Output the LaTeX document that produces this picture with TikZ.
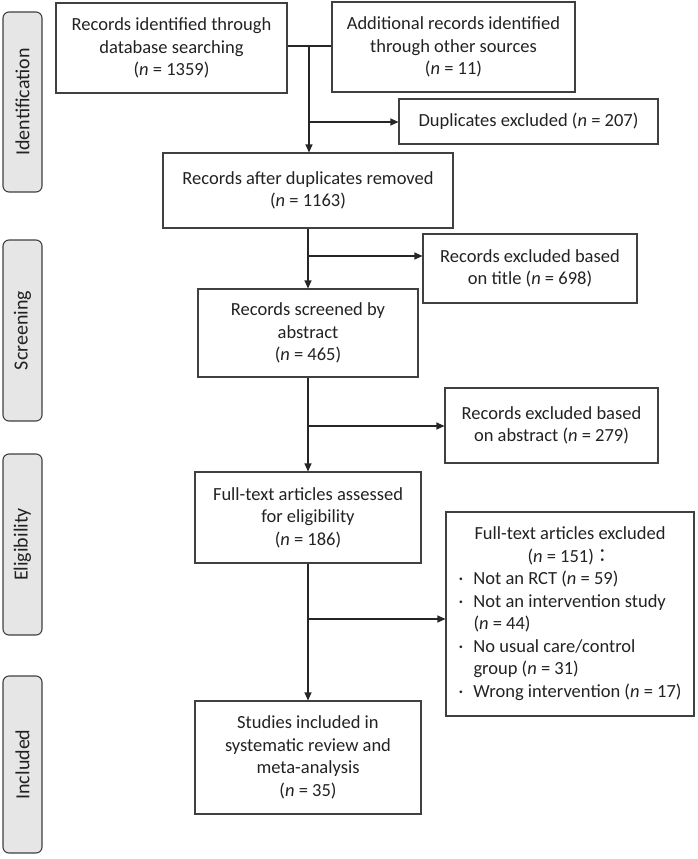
\documentclass[tikz,border=0pt]{standalone}
\usepackage{fontspec}
\setmainfont{Carlito}
\newfontfamily\cjk{Noto Sans CJK JP}
\usetikzlibrary{arrows.meta}
\definecolor{lbl}{HTML}{E6E6E6}
\definecolor{edge}{HTML}{404040}
\definecolor{txt}{HTML}{222222}
\newcommand{\nn}{\textit{n}}
\newcommand{\bul}{\makebox[15pt][l]{·}}
\begin{document}
\begin{tikzpicture}[x=1pt,y=-1pt,
  box/.style={draw=edge, line width=1.1pt, rectangle, inner sep=0pt, align=center,
    text=txt, font=\fontsize{18.5}{22.5}\selectfont},
  side/.style={draw=edge, line width=1.1pt, rounded corners=6pt, fill=lbl, inner sep=0pt,
    minimum width=39pt, text=txt, font=\fontsize{20}{22}\selectfont},
  conn/.style={draw=black!85, line width=1.1pt},
  arr/.style={conn, -{Triangle[length=8pt,width=7pt]}}]
\useasboundingbox (0,0) rectangle (697,859);

% side labels
\node[side, minimum height=180pt] (sid) at (22.5,102) {\rotatebox{90}{Identification}};
\node[side, minimum height=181pt] (ssc) at (22.5,330.5) {\rotatebox{90}{Screening}};
\node[side, minimum height=181pt] (sel) at (22.5,544.5) {\rotatebox{90}{Eligibility}};
\node[side, minimum height=177pt] (sin) at (22.5,764.5) {\rotatebox{90}{Included}};

% main boxes
\node[box, minimum width=231pt, minimum height=90pt] (b1) at (171.5,48)
  {Records identified through\\database searching\\(\nn{} = 1359)};
\node[box, minimum width=243pt, minimum height=90pt] (b2) at (453.5,47)
  {Additional records identified\\through other sources\\(\nn{} = 11)};
\node[box, minimum width=259pt, minimum height=45pt] (dup) at (528.5,121.5)
  {Duplicates excluded (\nn{} = 207)};
\node[box, minimum width=290pt, minimum height=75pt] (b3) at (308,190.5)
  {Records after duplicates removed\\(\nn{} = 1163)};
\node[box, minimum width=214pt, minimum height=69pt] (ti) at (530,268.5)
  {Records excluded based\\on title (\nn{} = 698)};
\node[box, minimum width=220pt, minimum height=88pt] (b4) at (308,333)
  {Records screened by\\abstract\\(\nn{} = 465)};
\node[box, minimum width=213pt, minimum height=75pt] (ab) at (551.5,425.5)
  {Records excluded based\\on abstract (\nn{} = 279)};
\node[box, minimum width=226pt, minimum height=91pt] (b5) at (308,517.5)
  {Full-text articles assessed\\for eligibility\\(\nn{} = 186)};
\node[box, minimum width=248pt, minimum height=204pt] (fx) at (570,614)
  {\begin{tabular}{@{}l@{}l@{}}
   \multicolumn{2}{c}{Full-text articles excluded}\\
   \multicolumn{2}{c}{(\nn{} = 151){\cjk ：}}\\
   \bul&Not an RCT (\nn{} = 59)\\
   \bul&Not an intervention study\\
   &(\nn{} = 44)\\
   \bul&No usual care/control\\
   &group (\nn{} = 31)\\
   \bul&Wrong intervention (\nn{} = 17)
   \end{tabular}};
\node[box, minimum width=226pt, minimum height=113pt] (b6) at (308,757.5)
  {Studies included in\\systematic review and\\meta-analysis\\(\nn{} = 35)};

% connectors
\coordinate (j1) at (309,46);
\coordinate (j2) at (309,122);
\coordinate (j3) at (308,256);
\coordinate (j4) at (308,426);
\coordinate (j5) at (308,619);
\draw[conn] (b1.east |- j1) -- (b2.west |- j1);
\draw[arr] (j1) -- (b3.north -| j1);
\draw[arr] (j2) -- (dup.west |- j2);
\draw[arr] (b3.south) -- (b4.north);
\draw[arr] (j3) -- (ti.west |- j3);
\draw[arr] (b4.south) -- (b5.north);
\draw[arr] (j4) -- (ab.west |- j4);
\draw[arr] (b5.south) -- (b6.north);
\draw[arr] (j5) -- (fx.west |- j5);
\end{tikzpicture}
\end{document}
